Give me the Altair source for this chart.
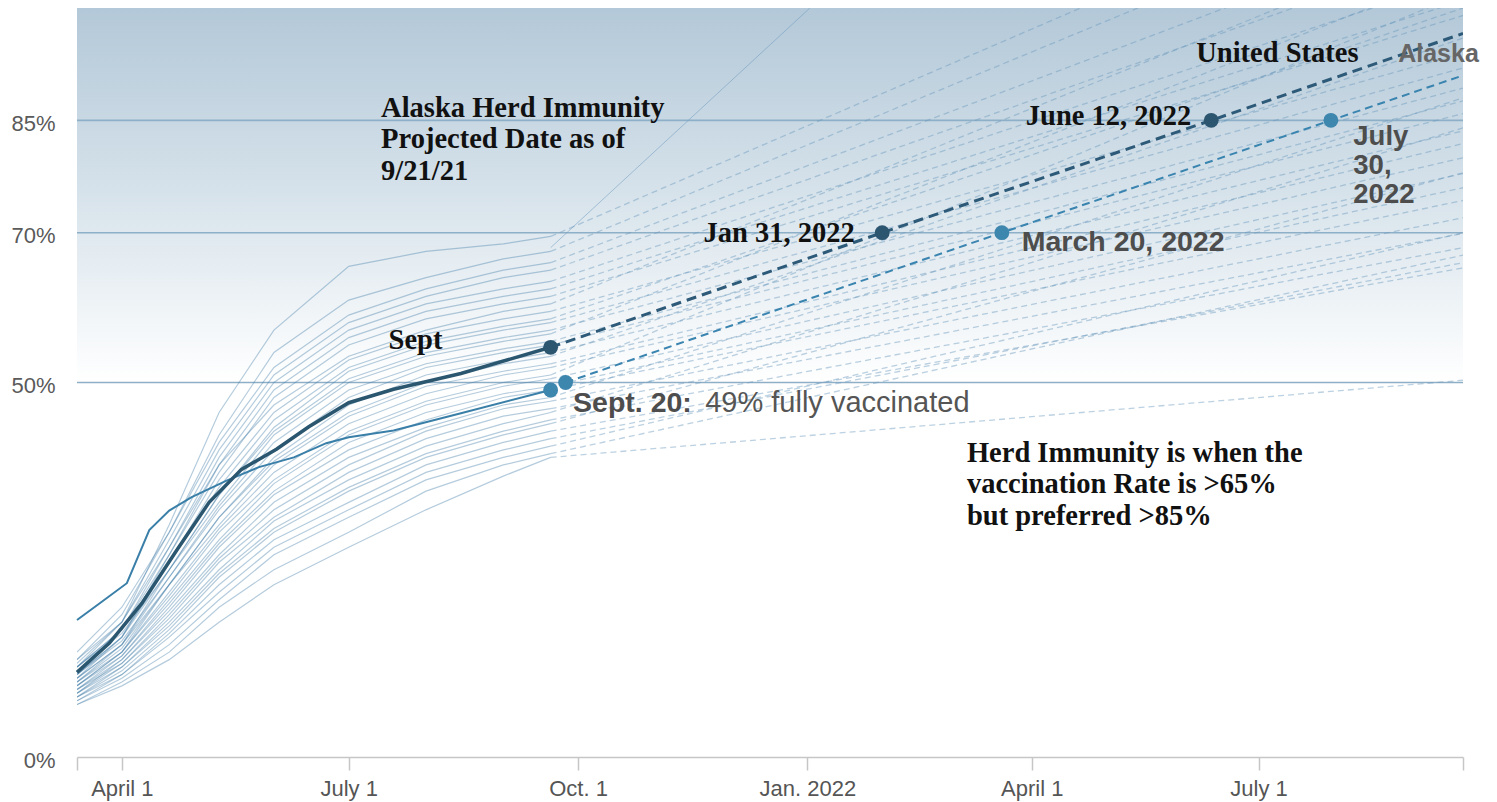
import altair as alt
import pandas as pd

# ---------------- data ----------------
x_domain = ["2021-03-14", "2022-09-21"]
y_domain = [0, 100]
y_ticks = [0, 50, 70, 85]
grid_values = [50, 70, 85]
gradient_band = [50, 100]

tick_dates = ["2021-03-14", "2021-04-01", "2021-07-01", "2021-10-01",
              "2022-01-01", "2022-04-01", "2022-07-01", "2022-09-21"]
tick_labels = ["", "April 1", "July 1", "Oct. 1", "Jan. 2022", "April 1", "July 1", ""]

state_dates = ["2021-03-14", "2021-04-01", "2021-04-20", "2021-05-10", "2021-06-01",
               "2021-07-01", "2021-08-01", "2021-09-01", "2021-09-20"]
state_values = [
    [12.5, 18, 31, 46, 57, 65.5, 67.5, 68.5, 69.5],
    [13, 19, 30, 43, 54, 61, 64, 66.5, 67.5],
    [14, 20, 30, 42, 52, 59, 62.5, 65, 66],
    [12, 18, 29, 41, 51, 58, 61.5, 64, 65],
    [11.5, 17, 28, 40, 50, 57, 60.5, 62.5, 63.5],
    [13, 18, 28, 39, 49, 56, 59.5, 61.5, 62.5],
    [12, 17, 27, 38, 48, 55, 58.5, 60.5, 61.5],
    [10.5, 16, 27, 39, 47, 53.5, 57, 59.5, 60.5],
    [12, 17, 26, 37, 46, 53, 56.5, 58.5, 59.5],
    [11, 16, 26, 36, 45, 52, 55.5, 57.5, 58.5],
    [12, 16.5, 25, 35, 44, 51.5, 55, 57, 58],
    [10, 15, 25, 35, 43.5, 50.5, 54, 56, 57],
    [11, 16, 25, 34, 43, 50, 53.5, 55.5, 56.5],
    [10.5, 15, 24, 33.5, 42, 49, 52.5, 54.5, 55.5],
    [11, 15.5, 24, 33, 41, 48, 52, 54, 55],
    [10, 14.5, 23, 32, 40, 47, 51, 53, 54],
    [9.5, 14, 23, 32, 39.5, 46, 50, 52.5, 53.5],
    [10.5, 15, 23, 31, 39, 45.5, 49.5, 51.5, 52.5],
    [9.5, 14, 22, 30.5, 38, 44.5, 48.5, 51, 52],
    [10, 14, 21.5, 30, 37, 43.5, 47.5, 50, 51],
    [9, 13.5, 21, 29, 36.5, 43, 47, 49.5, 50.5],
    [9.5, 13.5, 20.5, 28.5, 35.5, 42, 46, 48.5, 49.5],
    [8.5, 13, 20, 28, 35, 41, 45, 48, 49],
    [9, 13, 19.5, 27, 34, 40, 44, 47, 48],
    [8.5, 12.5, 19, 26.5, 33, 39, 43.5, 46.5, 47.5],
    [9, 12.5, 18.5, 26, 32, 38, 42.5, 45.5, 46.5],
    [8, 12, 18, 25, 31.5, 37, 41.5, 44.5, 46],
    [8.5, 12, 17.5, 24.5, 30.5, 36, 40.5, 43.5, 45],
    [8, 11.5, 17, 24, 30, 35.5, 40, 43, 44.5],
    [7.5, 11, 16.5, 23, 29, 34, 39, 42, 43.5],
    [8, 11, 16, 22, 28, 33, 38, 41, 42.5],
    [7.5, 10.5, 15, 21, 27, 32, 37, 40, 41.5],
    [7, 10, 14, 20, 25, 30, 35.5, 39, 40.5],
    [7, 9.5, 13, 18, 23, 28, 33, 37.5, 40],
]
proj_dates = ["2021-09-20", "2022-09-21"]
state_proj_end = [122, 118, 112, 108, 104, 101, 99, 110, 94, 100, 92, 89.3, 105, 87.6,
                  85.9, 83.6, 96, 81.9, 80, 102, 77.9, 76, 74.3, 88, 72, 69.9, 84, 68,
                  78, 65.3, 66, 70, 67, 50.3]
steep_dates = ["2021-09-20", "2022-01-02"]
steep_values = [68, 100]

us_dates = ["2021-03-14", "2021-03-27", "2021-04-09", "2021-04-23", "2021-05-06", "2021-05-19",
            "2021-06-02", "2021-06-15", "2021-07-01", "2021-07-19", "2021-08-15", "2021-09-20"]
us_values = [11.3, 15.2, 20.5, 27.6, 34.0, 38.4, 41.1, 44.1, 47.3, 49.1, 51.2, 54.7]
ak_dates = ["2021-03-14", "2021-03-23", "2021-04-03", "2021-04-12", "2021-04-20", "2021-04-29",
            "2021-05-13", "2021-05-26", "2021-06-09", "2021-06-22", "2021-07-01", "2021-07-19",
            "2021-08-15", "2021-09-20"]
ak_values = [18.3, 20.5, 23.2, 30.3, 32.9, 34.7, 36.9, 38.7, 40.0, 41.9, 42.7, 43.6, 45.9, 49.0]

us_proj_dates = ["2021-09-20", "2022-01-31", "2022-06-12", "2022-09-21"]
us_proj_values = [54.7, 70, 85, 96.6]
ak_proj_dates = ["2021-09-26", "2022-03-20", "2022-07-30", "2022-09-21"]
ak_proj_values = [50, 70, 85, 91]

us_dot_dates = ["2021-09-20", "2022-01-31", "2022-06-12"]
us_dot_values = [54.7, 70, 85]
ak_dot_dates = ["2021-09-20", "2021-09-26", "2022-03-20", "2022-07-30"]
ak_dot_values = [49, 50, 70, 85]

serif_left_text = ["Alaska Herd Immunity\nProjected Date as of\n9/21/21",
                   "Herd Immunity is when the\nvaccination Rate is >65%\nbut preferred >85%",
                   "Sept", "United States"]
serif_left_dates = ["2021-07-14", "2022-03-06", "2021-07-17", "2022-06-06"]
serif_left_pct = [85.5, 39.4, 54.5, 92.8]

serif_right_text = ["Jan 31, 2022", "June 12, 2022"]
serif_right_dates = ["2022-01-20", "2022-06-04"]
serif_right_pct = [68.7, 84.4]

sans_bold_text = ["March 20, 2022", "Sept. 20:"]
sans_bold_dates = ["2022-03-28", "2021-09-29"]
sans_bold_pct = [67.6, 46.0]

july_text = ["July\n30,\n2022"]
july_dates = ["2022-08-08"]
july_pct = [81.7]

sans_text = ["49% fully vaccinated"]
sans_dates = ["2021-11-21"]
sans_pct = [46.0]

alaska_label = ["Alaska"]
alaska_label_dates = ["2022-08-26"]
alaska_label_pct = [92.8]

# ---------------- helpers ----------------
def dt(s):
    y, m, d = (int(v) for v in s.split("-"))
    return alt.DateTime(year=y, month=m, date=d, utc=True)

label_expr = "''"
for d, l in zip(reversed(tick_dates), reversed(tick_labels)):
    label_expr = f"utcFormat(datum.value, '%Y-%m-%d') == '{d}' ? '{l}' : ({label_expr})"

x_scale = alt.Scale(type="utc", domain=[dt(x_domain[0]), dt(x_domain[1])], nice=False)
y_scale = alt.Scale(domain=y_domain, nice=False)
x_axis = alt.Axis(values=[dt(d) for d in tick_dates], labelExpr=label_expr, title=None,
                  grid=False, domainColor="#c6c6c6", domainWidth=1.5, tickColor="#c6c6c6",
                  tickWidth=1.5, tickSize=13, labelFont="Liberation Sans", labelFontSize=22,
                  labelColor="#555555", labelPadding=8, labelFlush=False, labelOverlap=False)
y_axis = alt.Axis(values=y_ticks, labelExpr="datum.value + '%'", title=None, domain=False,
                  ticks=False, grid=False, labelFont="Liberation Sans", labelFontSize=22,
                  labelColor="#5a5a5a", labelPadding=22, labelOffset=3)

X = lambda f="date": alt.X(f"{f}:T", scale=x_scale, axis=x_axis)
Y = lambda f="pct": alt.Y(f"{f}:Q", scale=y_scale, axis=y_axis)

# ---------------- tables ----------------
band_df = pd.DataFrame({"date": [x_domain[0]], "date2": [x_domain[1]],
                        "pct": [gradient_band[1]], "pct2": [gradient_band[0]]})
grid_df = pd.DataFrame({"pct": grid_values})

rows = []
for i, vals in enumerate(state_values):
    for d, v in zip(state_dates, vals):
        rows.append({"state": i, "date": d, "pct": v})
states_df = pd.DataFrame(rows)

prow = []
for i, (vals, end) in enumerate(zip(state_values, state_proj_end)):
    prow.append({"state": i, "date": proj_dates[0], "pct": vals[-1]})
    prow.append({"state": i, "date": proj_dates[1], "pct": end})
proj_df = pd.DataFrame(prow)

steep_df = pd.DataFrame({"date": steep_dates, "pct": steep_values})
us_df = pd.DataFrame({"date": us_dates, "pct": us_values})
ak_df = pd.DataFrame({"date": ak_dates, "pct": ak_values})
us_proj_df = pd.DataFrame({"date": us_proj_dates, "pct": us_proj_values})
ak_proj_df = pd.DataFrame({"date": ak_proj_dates, "pct": ak_proj_values})
us_dot_df = pd.DataFrame({"date": us_dot_dates, "pct": us_dot_values})
ak_dot_df = pd.DataFrame({"date": ak_dot_dates, "pct": ak_dot_values})

# ---------------- layers ----------------
gradient = alt.LinearGradient(
    gradient="linear", x1=0, x2=0, y1=0, y2=1,
    stops=[alt.GradientStop(offset=0, color="#b3c8d8"),
           alt.GradientStop(offset=0.45, color="#d3e0e9"),
           alt.GradientStop(offset=1, color="#ffffff")])

band = alt.Chart(band_df).mark_rect(color=gradient).encode(
    x=X(), x2="date2:T", y=Y(), y2="pct2:Q")

grid = alt.Chart(grid_df).mark_rule(color="#8eafc8", strokeWidth=1.6).encode(y=Y())

states = alt.Chart(states_df).mark_line(
    color="#3c7aa6", opacity=0.38, strokeWidth=1.2, clip=True
).encode(x=X(), y=Y(), detail="state:N")

projs = alt.Chart(proj_df).mark_line(
    color="#6a98bd", opacity=0.45, strokeWidth=1.3, strokeDash=[6, 4], clip=True
).encode(x=X(), y=Y(), detail="state:N")

steep = alt.Chart(steep_df).mark_line(
    color="#6a98bd", opacity=0.5, strokeWidth=1, clip=True).encode(x=X(), y=Y())

ak_line = alt.Chart(ak_df).mark_line(color="#3a7fa8", strokeWidth=2).encode(x=X(), y=Y())
us_line = alt.Chart(us_df).mark_line(color="#2b566f", strokeWidth=3.5).encode(x=X(), y=Y())
ak_proj = alt.Chart(ak_proj_df).mark_line(
    color="#3a84b0", strokeWidth=2, strokeDash=[8, 5], clip=True).encode(x=X(), y=Y())
us_proj = alt.Chart(us_proj_df).mark_line(
    color="#2d5a78", strokeWidth=3, strokeDash=[10, 6], clip=True).encode(x=X(), y=Y())

ak_dots = alt.Chart(ak_dot_df).mark_circle(color="#3d86ae", opacity=1, size=220).encode(x=X(), y=Y())
us_dots = alt.Chart(us_dot_df).mark_circle(color="#2c5570", opacity=1, size=220).encode(x=X(), y=Y())


def text_layer(texts, dates, pcts, **kw):
    df = pd.DataFrame({"date": dates, "pct": pcts, "label": texts})
    return alt.Chart(df).mark_text(lineBreak="\n", baseline="alphabetic", **kw).encode(
        x=X(), y=Y(), text="label:N")


t_serif_left = text_layer(serif_left_text, serif_left_dates, serif_left_pct,
                          align="left", font="Liberation Serif", fontWeight="bold",
                          fontSize=28.5, lineHeight=31.5, color="#111111")
t_serif_right = text_layer(serif_right_text, serif_right_dates, serif_right_pct,
                           align="right", font="Liberation Serif", fontWeight="bold",
                           fontSize=28.5, color="#111111")
t_sans_bold = text_layer(sans_bold_text, sans_bold_dates, sans_bold_pct,
                         align="left", font="Liberation Sans", fontWeight="bold",
                         fontSize=28.5, color="#4d4d4d")
t_july = text_layer(july_text, july_dates, july_pct,
                    align="left", font="Liberation Sans", fontWeight="bold",
                    fontSize=27.5, lineHeight=29, color="#4d4d4d")
t_sans = text_layer(sans_text, sans_dates, sans_pct,
                    align="left", font="Liberation Sans", fontSize=29, color="#555555")
t_alaska = text_layer(alaska_label, alaska_label_dates, alaska_label_pct,
                      align="left", font="Liberation Sans", fontWeight="bold",
                      fontSize=25, color="#666666")

chart = alt.layer(
    band, grid, states, projs, steep, ak_line, us_line, ak_proj, us_proj,
    ak_dots, us_dots, t_serif_left, t_serif_right, t_sans_bold, t_july, t_sans, t_alaska
).properties(
    width=1386, height=749,
    autosize=alt.AutoSizeParams(type="none"),
    padding={"left": 69, "top": 0, "right": 18, "bottom": 44},
    background="white",
).configure_view(stroke=None)

chart.save("out.html", embed_options={"renderer": "svg", "actions": False})
